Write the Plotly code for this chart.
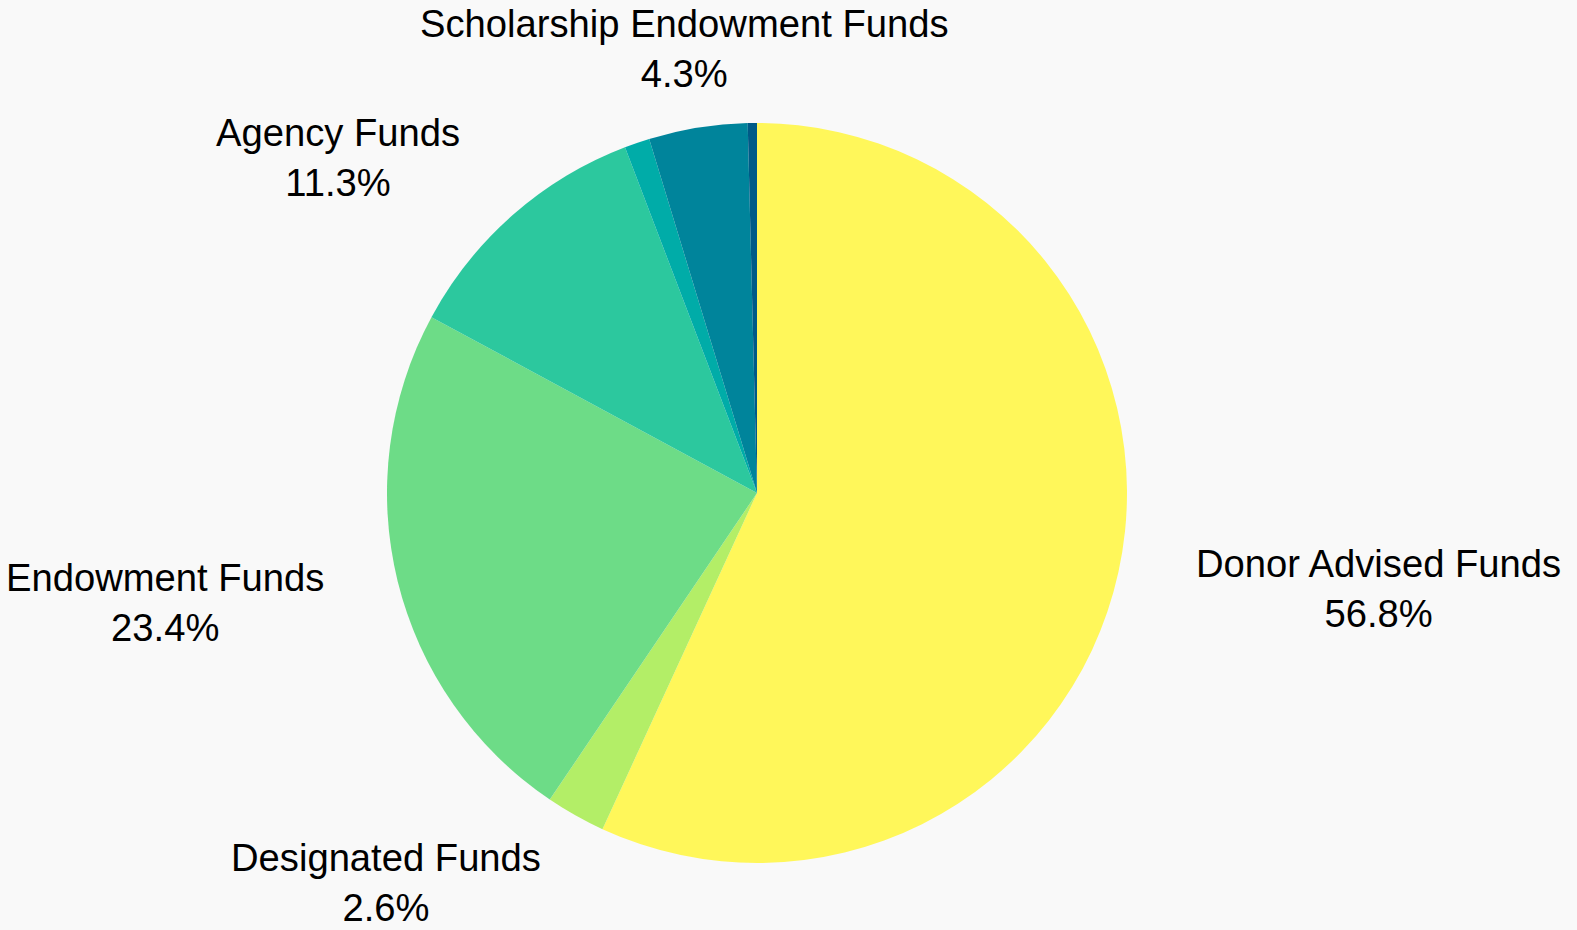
import plotly.graph_objects as go

# ---- data ----
categories = [
    "Donor Advised Funds",
    "Designated Funds",
    "Endowment Funds",
    "Agency Funds",
    "Field of Interest Funds",
    "Scholarship Endowment Funds",
    "Other Funds",
]
values = [56.8, 2.6, 23.4, 11.3, 1.1, 4.3, 0.4]
show_label = [True, True, True, True, False, True, False]
colors = ["#fff75a", "#b3ee67", "#6ddc87", "#2cc89e", "#00aca8", "#00849b", "#005a87"]

# ---- layout constants (label anchor points in pixels, figure 1577x930) ----
W, H = 1577, 930
label_px = {
    "Donor Advised Funds": (1378, 588),
    "Designated Funds": (386, 882),
    "Endowment Funds": (165, 602),
    "Agency Funds": (338, 157),
    "Scholarship Endowment Funds": (684, 48),
}
cx, cy, R = 757, 493, 370

fig = go.Figure(
    go.Pie(
        labels=categories,
        values=values,
        sort=False,
        direction="clockwise",
        rotation=0,
        marker=dict(colors=colors, line=dict(width=0)),
        textinfo="none",
        hoverinfo="label+percent",
        showlegend=False,
        domain=dict(
            x=[(cx - R) / W, (cx + R) / W],
            y=[(H - cy - R) / H, (H - cy + R) / H],
        ),
    )
)

annotations = []
for name, val, show in zip(categories, values, show_label):
    if not show:
        continue
    px, py = label_px[name]
    annotations.append(
        dict(
            x=px / W,
            y=1 - py / H,
            xref="paper",
            yref="paper",
            xanchor="center",
            yanchor="middle",
            showarrow=False,
            align="center",
            text=f"{name}<br>{val:.1f}%",
            font=dict(family="Liberation Sans, Arial, sans-serif", size=38.2, color="#000000"),
        )
    )

fig.update_layout(
    width=W,
    height=H,
    margin=dict(l=0, r=0, t=0, b=0),
    paper_bgcolor="#f9f9f9",
    plot_bgcolor="#f9f9f9",
    annotations=annotations,
)

fig.write_html(
    "out.html",
    config={"displayModeBar": False},
    post_script="document.body.style.margin='0';document.body.style.overflow='hidden';document.body.style.background='#f9f9f9';",
)
